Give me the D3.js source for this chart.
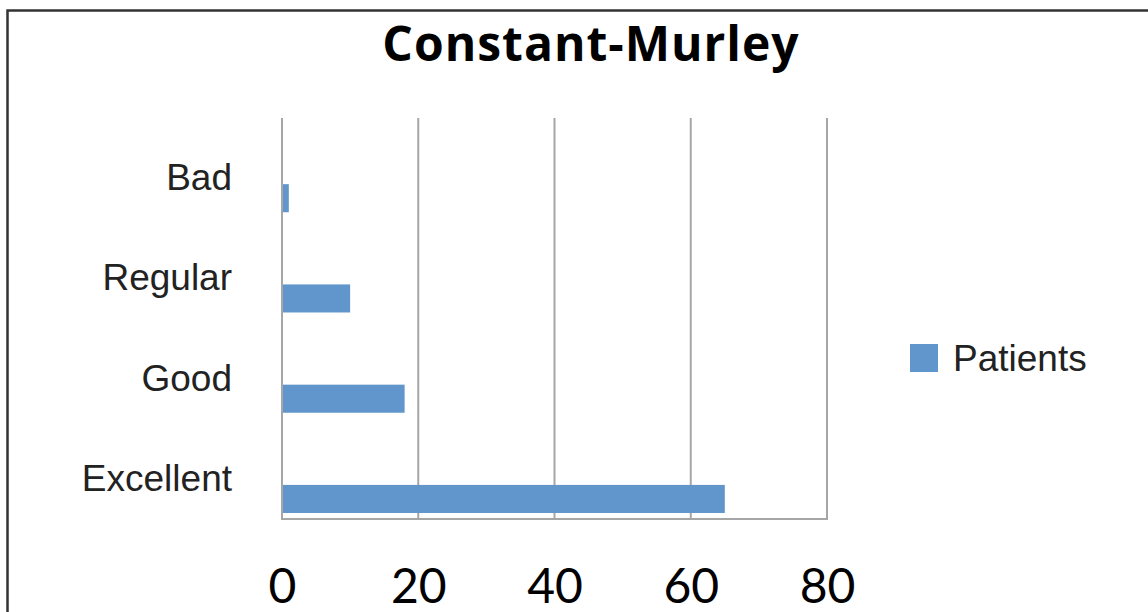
<!DOCTYPE html>
<html>
<head>
<meta charset="utf-8">
<script src="https://cdn.jsdelivr.net/npm/d3@7"></script>
<style>
  body { margin: 0; background: #fff; }
</style>
</head>
<body>
<script>
// data
const categories = ["Bad", "Regular", "Good", "Excellent"];
const patients = [1, 10, 18, 65];
const xTicks = [0, 20, 40, 60, 80];
const seriesName = "Patients";

const width = 1148, height = 612;
const plot = { left: 282, right: 827, top: 118, bottom: 519 };

const svg = d3.select("body").append("svg")
    .attr("width", width)
    .attr("height", height);

// outer frame (only top and left edges are visible in the picture)
svg.append("path")
    .attr("d", `M${width},10.5 H7.5 V${height}`)
    .attr("fill", "none")
    .attr("stroke", "#333")
    .attr("stroke-width", 2.5);

svg.append("text")
    .attr("x", 591)
    .attr("y", 61)
    .attr("text-anchor", "middle")
    .style("font-family", "'Open Sans', Lato, sans-serif")
    .style("font-weight", "bold")
    .style("font-size", "48px")
    .style("letter-spacing", "1px")
    .text("Constant-Murley");

const x = d3.scaleLinear().domain([0, 80]).range([plot.left, plot.right]);
const y = d3.scaleBand().domain(categories.slice()).range([plot.top, plot.bottom]);

// vertical gridlines
svg.append("g").selectAll("line").data(xTicks).enter().append("line")
    .attr("x1", (d) => x(d))
    .attr("x2", (d) => x(d))
    .attr("y1", plot.top)
    .attr("y2", plot.bottom)
    .attr("stroke", "#a6a6a6")
    .attr("stroke-width", 2);

// bottom axis line
svg.append("line")
    .attr("x1", plot.left - 1)
    .attr("x2", plot.right + 1)
    .attr("y1", plot.bottom)
    .attr("y2", plot.bottom)
    .attr("stroke", "#a6a6a6")
    .attr("stroke-width", 2);

// bars sit in the lower part of each band
const data = categories.map((c, i) => ({ cat: c, value: patients[i] }));
svg.append("g").selectAll("rect").data(data).enter().append("rect")
    .attr("x", x(0) + 1)
    .attr("y", (d) => y(d.cat) + y.step() * 0.66)
    .attr("width", (d) => x(d.value) - x(0) - 1)
    .attr("height", y.step() * 0.28)
    .attr("fill", "#6096cb");

// category labels
svg.append("g").selectAll("text").data(categories).enter().append("text")
    .attr("x", 232)
    .attr("y", (d) => y(d) + y.step() * 0.72)
    .attr("text-anchor", "end")
    .style("font-family", "'Liberation Sans', Arial, sans-serif")
    .style("font-size", "37px")
    .style("fill", "#222")
    .text((d) => d);

// x tick labels
const xAxis = d3.axisBottom(x).tickValues(xTicks).tickSize(0).tickPadding(0);
const gx = svg.append("g")
    .attr("transform", `translate(0,${plot.bottom + 50})`)
    .call(xAxis);
gx.select(".domain").remove();
gx.selectAll("text")
    .style("font-family", "Lato, 'Open Sans', sans-serif")
    .style("font-size", "48px")
    .style("fill", "#000");

// legend
const legend = svg.append("g").attr("transform", "translate(910,344)");
legend.append("rect")
    .attr("width", 28)
    .attr("height", 28)
    .attr("fill", "#6096cb");
legend.append("text")
    .attr("x", 43)
    .attr("y", 27)
    .style("font-family", "'Liberation Sans', Arial, sans-serif")
    .style("font-size", "37px")
    .style("fill", "#222")
    .text(seriesName);
</script>
</body>
</html>
